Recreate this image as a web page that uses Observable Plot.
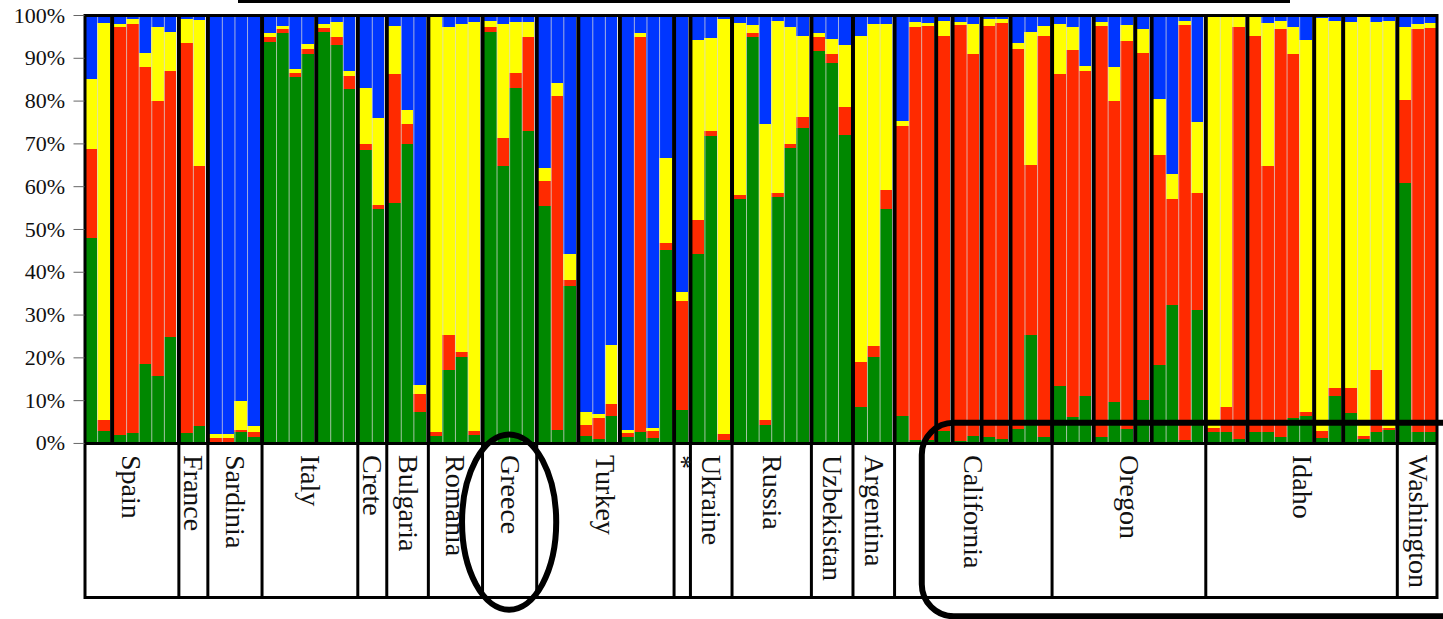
<!DOCTYPE html>
<html><head><meta charset="utf-8">
<script src="https://cdn.jsdelivr.net/npm/d3@7"></script>
<script src="https://cdn.jsdelivr.net/npm/@observablehq/plot@0.6"></script>
<style>body{margin:0;background:#fff;} svg{display:block}</style>
</head><body><div id="chart"></div>
<script>
// Populations (label boxes) and the number of individuals in each sub-population block
const countries = ["Spain","France","Sardinia","Italy","Crete","Bulgaria","Romania","Greece","Turkey","*","Ukraine","Russia","Uzbekistan","Argentina","California","Oregon","Idaho","Washington"];
const subgroupSizes = [[2,5],[2],[4],[4,3],[2],[3],[4],[4],[3,3,4],[1],[3],[6],[3],[3],[3,1,2,2,3],[3,3,1,4],[3,5,2,4],[3]];

// Cluster membership (%) per individual, bottom to top: green, red, yellow, blue
const clusterNames = ["Cluster 1","Cluster 2","Cluster 3","Cluster 4"];
const clusterColors = ["#008800","#ff2a00","#ffff00","#0036ff"];
const green = [48,2.7, 1.9,2.3,18.4,15.7,24.7, 2.3,4.0, 0.3,0.2,2.5,1.4, 93.8,95.7,85.4,91.0, 96.1,93.0,82.6, 68.5,54.6, 56.0,69.9,7.2, 1.7,17.1,20.1,1.9, 96.0,64.7,82.9,72.8, 55.4,3.0,36.6, 1.7,0.9,6.4, 1.4,2.5,1.2,45.0, 7.8, 44.2,71.8,0.8, 57.0,94.8,4.3,57.4,68.9,73.5, 91.7,88.9,72.0, 8.4,20.1,54.6, 6.2,0.8,0.8, 2.7, 0.5,1.7, 1.4,0.9, 3.3,25.3,1.4, 13.2,6.1,10.9, 1.4,9.5,3.3, 10.1, 18.3,32.3,0.8,31.1, 2.5,2.5,0.9, 2.5,2.5,1.4,5.8,6.4, 1.2,10.9, 7.0,0.9,2.5,3.0, 60.7,2.5,2.5];
const red = [20.6,2.7, 95.2,95.7,69.5,64.3,62.3, 91.2,60.8, 0.9,1.0,0.6,1.2, 1.0,1.0,1.0,1.0, 0.9,1.8,3.2, 1.4,1.0, 30.2,4.7,4.2, 0.8,8.2,1.1,0.8, 1.3,6.5,3.6,22.0, 5.9,78.1,1.4, 2.6,4.9,2.8, 0.9,92.3,1.5,1.7, 25.3, 7.8,1.0,1.2, 1.0,0.9,1.0,1.1,1.0,2.6, 3.1,2.0,6.4, 10.4,2.5,4.5, 67.9,96.5,96.6, 92.4, 97.2,89.3, 96.0,97.3, 88.7,39.7,93.7, 73.0,85.7,75.9, 96.0,70.5,90.7, 81.1, 49.0,24.7,96.9,27.4, 1.0,5.9,96.4, 92.6,62.1,95.3,85.1,0.8, 1.5,1.9, 5.8,0.7,14.5,0.5, 19.5,94.2,94.4];
const yellow = [16.5,92.8, 0.8,1.0,3.3,17.1,9.1, 5.5,34.0, 0.8,0.8,6.6,1.4, 0.9,0.7,0.9,1.2, 1.0,3.6,1.2, 13.0,20.3, 11.2,3.2,2.2, 97.0,72.0,76.6,95.7, 1.4,26.7,11.9,3.6, 2.9,2.9,6.2, 2.9,1.0,13.8, 0.7,0.9,0.8,20.0, 2.1, 42.2,21.8,97.0, 40.2,2.0,69.3,40.2,27.4,19.0, 0.9,3.4,14.6, 76.3,75.3,38.8, 1.2,1.1,0.8, 3.5, 0.7,7.0, 1.6,0.8, 1.4,31.1,2.3, 11.7,5.5,1.3, 1.0,7.8,3.7, 5.5, 13.0,5.9,1.0,16.4, 96.0,91.1,2.2, 4.4,33.6,2.0,6.2,87.0, 96.5,85.9, 85.6,97.9,81.4,95.2, 17.1,1.2,1.3];
const blue = [14.9,1.8, 2.1,1.0,8.8,2.9,3.9, 1.0,1.2, 98.0,98.0,90.3,96.0, 4.3,2.6,12.7,6.8, 2.0,1.6,13.0, 17.1,24.1, 2.6,22.2,86.4, 0.5,2.7,2.2,1.6, 1.3,2.1,1.6,1.6, 35.8,16.0,55.8, 92.8,93.2,77.0, 97.0,4.3,96.5,33.3, 64.8, 5.8,5.4,1.0, 1.8,2.3,25.4,1.3,2.7,4.9, 4.3,5.7,7.0, 4.9,2.1,2.1, 24.7,1.6,1.8, 1.4, 1.6,2.0, 1.0,1.0, 6.6,3.9,2.6, 2.1,2.7,11.9, 1.6,12.2,2.3, 3.3, 19.7,37.1,1.3,25.1, 0.5,0.5,0.5, 0.5,1.8,1.3,2.9,5.8, 0.8,1.3, 1.6,0.5,1.6,1.3, 2.7,2.1,1.8];
const yTicks = [0,0.1,0.2,0.3,0.4,0.5,0.6,0.7,0.8,0.9,1];

const GAP = 0.3; // width of a block separator, in bar units
const series = [green, red, yellow, blue];
const segs = [], innerBounds = [], groupBounds = [], countryBounds = [], labels = [];
let idx = 0, g = 0;
countries.forEach((name, ci) => {
  const cx1 = idx + g * GAP;
  if (ci > 0) countryBounds.push(cx1 - GAP / 2);
  subgroupSizes[ci].forEach((n, si) => {
    if (idx > 0) groupBounds.push(idx + g * GAP - GAP / 2);
    for (let k = 0; k < n; k++) {
      const x1 = idx + g * GAP, x2 = x1 + 1;
      const vals = series.map(s => s[idx]);
      const sum = d3.sum(vals);
      let cum = 0;
      vals.forEach((v, j) => {
        segs.push({x1, x2, y1: cum / sum, y2: (cum + v) / sum, cluster: clusterNames[j]});
        cum += v;
      });
      if (k < n - 1) innerBounds.push(x2);
      idx++;
    }
    g++;
  });
  const cx2 = idx + (g - 1) * GAP;
  labels.push({name, x1: cx1 - GAP / 2, x2: cx2 + GAP / 2, cx: (cx1 + cx2) / 2});
});
const total = idx + (g - 1) * GAP;

const plot = Plot.plot({
  width: 1443, height: 619,
  marginLeft: 84.5, marginRight: 6.5, marginTop: 15, marginBottom: 22,
  x: {domain: [0, total], axis: null},
  y: {domain: [-0.36, 1], axis: null},
  color: {domain: clusterNames, range: clusterColors},
  style: {fontFamily: "Liberation Serif", background: "white"},
  marks: [
    Plot.rect(segs, {x1: "x1", x2: "x2", y1: "y1", y2: "y2", fill: "cluster", shapeRendering: "crispEdges"}),
    Plot.ruleX(innerBounds, {y1: 0, y2: 1, stroke: "#d8d8d8", strokeOpacity: 0.75, strokeWidth: 1}),
    Plot.ruleX(groupBounds, {y1: 0, y2: 1, stroke: "black", strokeWidth: 4}),
    Plot.ruleX(countryBounds, {y1: -0.36, y2: 0, stroke: "black", strokeWidth: 3}),
    Plot.ruleY([0], {stroke: "black", strokeWidth: 3}),
    Plot.frame({stroke: "black", strokeWidth: 3}),
    Plot.axisY(yTicks, {tickFormat: d => Math.round(d * 100) + "%", tickSize: 11, tickPadding: 9, fontSize: 22, stroke: "#666", fill: "#111"}),
    Plot.text(labels, {x: "cx", y: () => -0.027, text: "name", rotate: 90, textAnchor: "start", lineAnchor: "middle", fontSize: 28, fill: "#111"})
  ]
});

// Highlight annotations (ellipse around Greece, rounded box around the US populations)
const svg = d3.select(plot);
const X = v => plot.scale("x").apply(v), Y = v => plot.scale("y").apply(v);
const gr = labels.find(d => d.name === "Greece");
svg.append("ellipse")
  .attr("cx", X(gr.cx)).attr("cy", (Y(0.02) + Y(-0.39)) / 2)
  .attr("rx", (X(gr.x2) - X(gr.x1)) / 2 + 20).attr("ry", (Y(-0.39) - Y(0.02)) / 2)
  .attr("fill", "none").attr("stroke", "black").attr("stroke-width", 6);
const ca = labels.find(d => d.name === "California");
const left = X(ca.x1 + 2.2);
svg.append("rect")
  .attr("x", left).attr("y", Y(0.047))
  .attr("width", 1443 + 40 - left).attr("height", Y(-0.405) - Y(0.047))
  .attr("rx", 32).attr("fill", "none").attr("stroke", "black").attr("stroke-width", 6);
svg.append("line").attr("x1", 238).attr("x2", 1290).attr("y1", 1.5).attr("y2", 1.5)
  .attr("stroke", "black").attr("stroke-width", 3);

document.getElementById("chart").appendChild(plot);
</script>
</body></html>
